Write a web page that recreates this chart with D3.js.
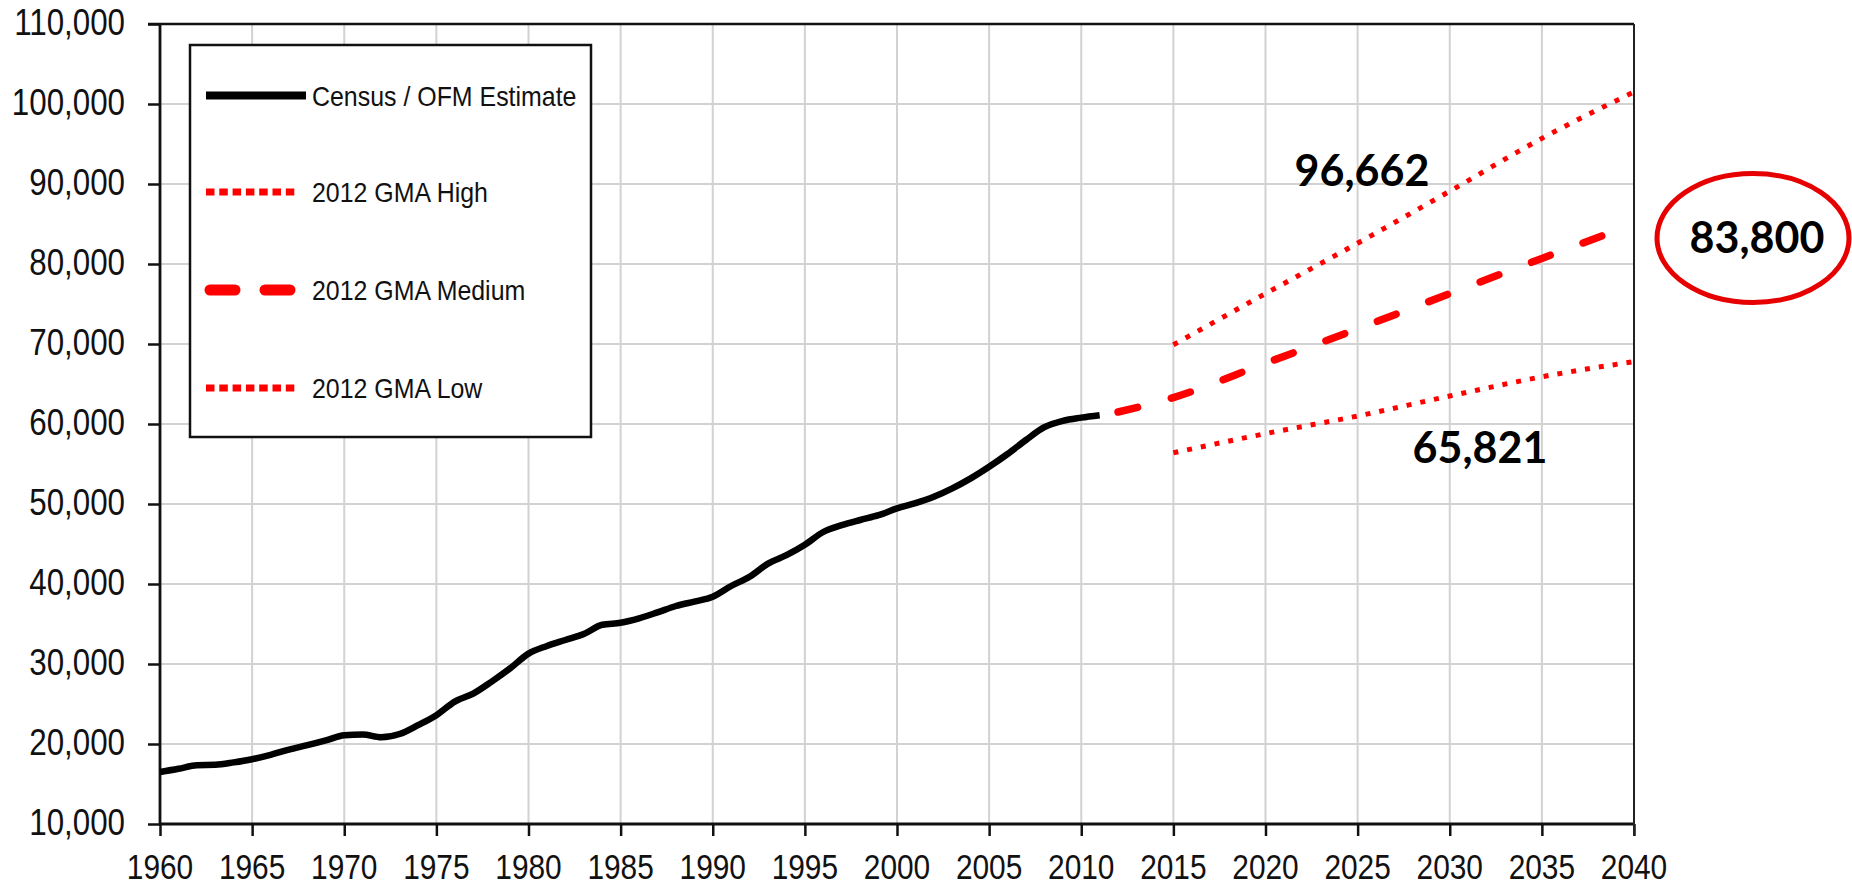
<!DOCTYPE html>
<html><head><meta charset="utf-8">
<script src="https://cdn.jsdelivr.net/npm/d3@7"></script>
<style>body{margin:0;background:#fff;} svg{display:block}</style>
</head><body>
<svg id="chart" width="1852" height="887"></svg>
<script>
// ---- data ----
const censusYears = [1960,1961,1962,1963,1964,1965,1966,1967,1968,1969,1970,1971,1972,1973,1974,1975,1976,1977,1978,1979,1980,1981,1982,1983,1984,1985,1986,1987,1988,1989,1990,1991,1992,1993,1994,1995,1996,1997,1998,1999,2000,2001,2002,2003,2004,2005,2006,2007,2008,2009,2010,2011];
const censusValues = [16500,16900,17350,17400,17700,18100,18650,19300,19850,20450,21100,21200,20850,21250,22350,23600,25300,26300,27800,29450,31300,32250,33000,33750,34900,35150,35700,36450,37250,37800,38400,39750,40900,42550,43600,44900,46500,47350,48000,48600,49450,50100,50900,51950,53200,54650,56250,58000,59600,60400,60800,61100];
const mediumYears = [2012,2015,2020,2025,2030,2035,2040];
const mediumValues = [61500,63300,67600,71900,76300,80700,85000];
const highYears = [2015,2020,2025,2030,2035,2040];
const highValues = [69900,76300,82600,89100,95700,101500];
const lowYears = [2015,2020,2025,2030,2035,2040];
const lowValues = [56400,58800,61000,63500,65900,67800];
const xTickValues = d3.range(1960, 2041, 5);
const yTickValues = d3.range(10000, 110001, 10000);
const legendLabels = ["Census / OFM Estimate","2012 GMA High","2012 GMA Medium","2012 GMA Low"];
const annotationTexts = ["96,662","65,821","83,800"];

// ---- layout ----
const svg = d3.select("#chart");
const L = 160, R = 1634, T = 24, B = 824;
const x = d3.scaleLinear().domain([1960, 2040]).range([L, R]);
const y = d3.scaleLinear().domain([10000, 110000]).range([B, T]);
const fmt = d3.format(",");

// gridlines
const grid = svg.append("g").attr("stroke", "#d2d2d2").attr("stroke-width", 2);
grid.selectAll("line.v").data(xTickValues.filter(d => d > 1960 && d < 2040)).join("line")
  .attr("x1", d => x(d)).attr("x2", d => x(d)).attr("y1", T).attr("y2", B);
grid.selectAll("line.h").data(yTickValues.filter(d => d > 10000 && d < 110000)).join("line")
  .attr("y1", d => y(d)).attr("y2", d => y(d)).attr("x1", L).attr("x2", R);

// axes
const yAxis = svg.append("g").attr("transform", `translate(${L},0)`)
  .call(d3.axisLeft(y).tickValues(yTickValues).tickSize(12).tickFormat(""));
const xAxis = svg.append("g").attr("transform", `translate(0,${B})`)
  .call(d3.axisBottom(x).tickValues(xTickValues).tickSize(12).tickFormat(""));
[yAxis, xAxis].forEach(a => {
  a.select(".domain").remove();
  a.selectAll("line").attr("stroke", "#111").attr("stroke-width", 2.5);
});
// frame
svg.append("line").attr("x1", L).attr("x2", L).attr("y1", T).attr("y2", B + 1).attr("stroke", "#111").attr("stroke-width", 2.8);
svg.append("line").attr("x1", L - 1).attr("x2", R).attr("y1", B).attr("y2", B).attr("stroke", "#111").attr("stroke-width", 2.8);
svg.append("line").attr("x1", L - 12).attr("x2", R).attr("y1", T).attr("y2", T).attr("stroke", "#111").attr("stroke-width", 2.5);
svg.append("line").attr("x1", R).attr("x2", R).attr("y1", T).attr("y2", B + 12).attr("stroke", "#222").attr("stroke-width", 2);

// tick labels
svg.append("g").selectAll("text").data(yTickValues).join("text")
  .attr("transform", d => `translate(125,${y(d) + 11}) scale(0.87,1)`)
  .attr("text-anchor", "end")
  .attr("font-family", "'Liberation Sans', Arial, sans-serif")
  .attr("font-size", 36).attr("fill", "#111")
  .text(d => fmt(d));
svg.append("g").selectAll("text").data(xTickValues).join("text")
  .attr("transform", d => `translate(${x(d)},879) scale(0.83,1)`)
  .attr("text-anchor", "middle")
  .attr("font-family", "'Liberation Sans', Arial, sans-serif")
  .attr("font-size", 36).attr("fill", "#111")
  .text(d => d);

// series
const line = d3.line().x(d => x(d[0])).y(d => y(d[1])).curve(d3.curveMonotoneX);
const zip = (a, b) => a.map((v, i) => [v, b[i]]);

svg.append("path").datum(zip(highYears, highValues)).attr("d", line)
  .attr("fill", "none").attr("stroke", "#ff0000").attr("stroke-width", 5)
  .attr("stroke-dasharray", "5 9");
svg.append("path").datum(zip(lowYears, lowValues)).attr("d", line)
  .attr("fill", "none").attr("stroke", "#ff0000").attr("stroke-width", 5)
  .attr("stroke-dasharray", "5 9");
svg.append("path").datum(zip(mediumYears, mediumValues)).attr("d", line)
  .attr("fill", "none").attr("stroke", "#ff0000").attr("stroke-width", 7.5)
  .attr("stroke-linecap", "round").attr("stroke-dasharray", "20 35");
svg.append("path").datum(zip(censusYears, censusValues)).attr("d", line)
  .attr("fill", "none").attr("stroke", "#000").attr("stroke-width", 6.5)
  .attr("stroke-linejoin", "round");

// legend
const lg = svg.append("g");
lg.append("rect").attr("x", 190).attr("y", 45).attr("width", 401).attr("height", 392)
  .attr("fill", "#fff").attr("stroke", "#111").attr("stroke-width", 2.5);
const legendBase = [106, 201.5, 300, 398];
lg.selectAll("text").data(legendLabels).join("text")
  .attr("transform", (d, i) => `translate(312,${legendBase[i]}) scale(0.89,1)`)
  .attr("font-family", "'Liberation Sans', Arial, sans-serif")
  .attr("font-size", 28).attr("fill", "#111")
  .text(d => d);
lg.append("line").attr("x1", 206).attr("x2", 306).attr("y1", 95.5).attr("y2", 95.5)
  .attr("stroke", "#000").attr("stroke-width", 8);
lg.append("line").attr("x1", 206).attr("x2", 299).attr("y1", 192).attr("y2", 192)
  .attr("stroke", "#ff0000").attr("stroke-width", 7).attr("stroke-dasharray", "8.5 4.8");
lg.append("line").attr("x1", 210).attr("x2", 290).attr("y1", 290).attr("y2", 290)
  .attr("stroke", "#ff0000").attr("stroke-width", 11).attr("stroke-linecap", "round")
  .attr("stroke-dasharray", "25 30");
lg.append("line").attr("x1", 206).attr("x2", 299).attr("y1", 388).attr("y2", 388)
  .attr("stroke", "#ff0000").attr("stroke-width", 7).attr("stroke-dasharray", "8.5 4.8");

// annotations
const annPos = [[1362, 186], [1480, 463], [1757, 253]];
svg.append("g").selectAll("text").data(annotationTexts).join("text")
  .attr("x", (d, i) => annPos[i][0]).attr("y", (d, i) => annPos[i][1])
  .attr("text-anchor", "middle")
  .attr("font-family", "Lato, 'Open Sans', sans-serif").attr("font-weight", "bold")
  .attr("font-size", 43).attr("fill", "#000")
  .text(d => d);
svg.append("ellipse").attr("cx", 1753).attr("cy", 238).attr("rx", 96).attr("ry", 64.5)
  .attr("fill", "none").attr("stroke", "#e60000").attr("stroke-width", 5);
</script>
</body></html>
